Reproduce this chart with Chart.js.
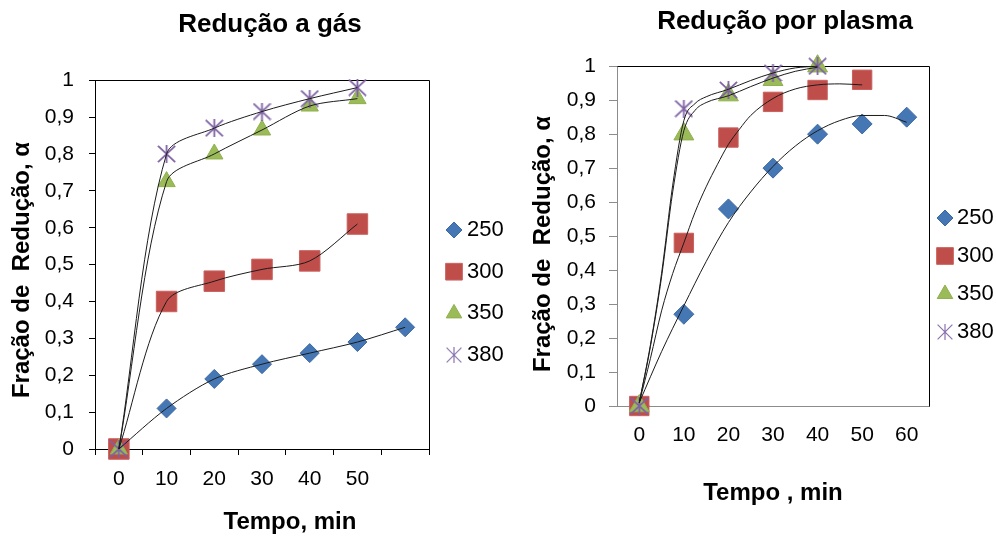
<!DOCTYPE html>
<html>
<head>
<meta charset="utf-8">
<script src="https://cdn.jsdelivr.net/npm/chart.js@4/dist/chart.umd.min.js"></script>
<style>
  html, body { margin: 0; padding: 0; background: #fff; width: 996px; height: 536px; overflow: hidden; }
  canvas { position: absolute; top: 0; }
  #gas { left: 0; }
  #plasma { left: 530px; }
</style>
</head>
<body>
<canvas id="gas" width="540" height="536"></canvas>
<canvas id="plasma" width="510" height="536"></canvas>
<script>
// ---- data: reduced fraction α vs. time (min) for each temperature ----
const temperatures = ['250', '300', '350', '380'];

// gas reduction (category axis, last category unlabeled)
const gasTimeLabels = ['0', '10', '20', '30', '40', '50', ''];
const gas250 = [0, 0.11, 0.19, 0.23, 0.26, 0.29, 0.33];
const gas300 = [0, 0.40, 0.455, 0.487, 0.51, 0.61];
const gas350 = [0, 0.725, 0.80, 0.865, 0.93, 0.95];
const gas380 = [0, 0.80, 0.87, 0.915, 0.95, 0.98];

// plasma reduction (measured points)
const plasmaTimes = [0, 10, 20, 30, 40, 50, 60];
const plasma250 = [0, 0.27, 0.58, 0.70, 0.80, 0.83, 0.85];
const plasma300 = [0, 0.48, 0.79, 0.895, 0.93, 0.96];
const plasma350 = [0, 0.80, 0.915, 0.96, 1.0];
const plasma380 = [0, 0.875, 0.93, 0.98, 1.0];

// plasma reduction (fitted trend curves)
const fit250Times = [0, 5, 10, 15, 20, 25, 30, 35, 40, 45, 50, 55, 60];
const fit250 = [0.01, 0.16, 0.295, 0.425, 0.54, 0.63, 0.705, 0.765, 0.81, 0.84, 0.855, 0.855, 0.835];
const fit300Times = [0, 2.5, 5, 7.5, 10, 12.5, 15, 17.5, 20, 22.5, 25, 30, 35, 40, 45, 50];
const fit300 = [0.01, 0.14, 0.28, 0.39, 0.48, 0.57, 0.645, 0.71, 0.77, 0.815, 0.855, 0.905, 0.933, 0.945, 0.948, 0.945];
const fit350Times = [0, 2.5, 5, 7.5, 10, 12.5, 15, 20, 25, 30, 35, 40];
const fit350 = [0.01, 0.175, 0.38, 0.63, 0.81, 0.87, 0.893, 0.913, 0.94, 0.965, 0.985, 0.997];
const fit380Times = [0, 2.5, 5, 7.5, 10, 12.5, 15, 20, 25, 30, 35, 40];
const fit380 = [0.01, 0.18, 0.39, 0.65, 0.84, 0.89, 0.91, 0.932, 0.958, 0.98, 0.995, 1.0];

// axis tick labels
const yTickLabels = ['0', '0,1', '0,2', '0,3', '0,4', '0,5', '0,6', '0,7', '0,8', '0,9', '1'];
const plasmaTickLabels = ['0', '10', '20', '30', '40', '50', '60'];

// ---- styling ----
const FONT = "'Liberation Sans', Arial, Helvetica, sans-serif";

function starMarker(w, h, color, lw) {
  const c = document.createElement('canvas');
  c.width = w; c.height = h;
  const g = c.getContext('2d');
  g.strokeStyle = color;
  g.lineWidth = lw;
  const p = lw / 2;
  g.beginPath();
  g.moveTo(p, p); g.lineTo(w - p, h - p);
  g.moveTo(w - p, p); g.lineTo(p, h - p);
  g.moveTo(w / 2, 0); g.lineTo(w / 2, h);
  g.stroke();
  return c;
}

const PURPLE = '#7f62a4';
// later series are painted over earlier ones (lower order = drawn later)
const markerStyles = {
  '250': { pointStyle: 'rectRot', fill: '#4677b5', stroke: '#3d69a3', legendRadius: 8, order: 4 },
  '300': { pointStyle: 'rect', fill: '#bf4d4a', stroke: '#c9615e', legendRadius: 11.8, order: 3 },
  '350': { pointStyle: 'triangle', fill: '#9bbb59', stroke: '#8fb04d', legendRadius: 9, order: 2 },
  '380': { pointStyle: 'image', fill: PURPLE, stroke: PURPLE, legendRadius: 8, order: 1 }
};

function markerSet(temp, values, sizes, xs) {
  const st = markerStyles[temp];
  const data = xs ? values.map((v, i) => ({ x: xs[i], y: v })) : values;
  const isStar = st.pointStyle === 'image';
  return {
    label: temp,
    data,
    showLine: false,
    order: st.order,
    clip: false,
    pointStyle: isStar ? starMarker(sizes.star[0], sizes.star[1], PURPLE, 1.8) : st.pointStyle,
    pointRadius: isStar ? 10 : sizes[temp],
    pointBackgroundColor: st.fill,
    pointBorderColor: st.stroke,
    pointBorderWidth: 1,
    legendMarker: {
      pointStyle: isStar ? starMarker(16, 16, '#8a74b0', 1.2) : st.pointStyle,
      radius: st.legendRadius,
      fill: st.fill,
      stroke: st.stroke
    }
  };
}

function curveSet(data, extra) {
  return Object.assign({
    data,
    borderColor: '#1b1b1b',
    borderWidth: 1,
    pointRadius: 0,
    fill: false,
    order: 0,
    clip: false
  }, extra);
}

// empty right-hand axis that reserves the legend column
function legendColumn(width) {
  return {
    type: 'linear',
    position: 'right',
    display: true,
    grid: { display: false, drawTicks: false },
    border: { display: false },
    ticks: { display: false },
    afterFit: s => { s.width = width; }
  };
}

// frame on top/right of the plot, axis titles and legend drawn on the canvas
const decor = {
  id: 'decor',
  beforeDatasetsDraw(chart, args, o) {
    const { ctx, chartArea: a } = chart;
    const al = v => Math.round(v - 0.5) + 0.5;
    ctx.save();
    ctx.strokeStyle = o.frameColor;
    ctx.lineWidth = 1;
    ctx.beginPath();
    ctx.moveTo(al(a.left), al(a.top));
    ctx.lineTo(al(a.right), al(a.top));
    ctx.lineTo(al(a.right), al(a.bottom));
    ctx.stroke();
    ctx.restore();
  },
  afterDraw(chart, args, o) {
    const ctx = chart.ctx;
    ctx.save();
    ctx.fillStyle = '#000';
    ctx.textBaseline = 'middle';
    ctx.textAlign = 'center';
    ctx.font = 'bold 24px ' + FONT;
    ctx.fillText(o.xTitle.text, o.xTitle.x, o.xTitle.y);
    ctx.save();
    ctx.translate(o.yTitle.x, o.yTitle.y);
    ctx.rotate(-Math.PI / 2);
    ctx.fillText(o.yTitle.text, 0, 0);
    ctx.restore();

    // legend
    const lg = o.legend;
    const items = chart.data.datasets.filter(d => d.legendMarker);
    ctx.font = '22px ' + FONT;
    ctx.textAlign = 'left';
    items.forEach((d, i) => {
      const y = lg.y0 + i * lg.dy;
      const m = d.legendMarker;
      ctx.fillStyle = m.fill;
      ctx.strokeStyle = m.stroke;
      Chart.helpers.drawPoint(ctx, { pointStyle: m.pointStyle, radius: m.radius, rotation: 0, borderWidth: 1 }, lg.markerX, y);
      ctx.fillStyle = '#000';
      ctx.fillText(d.label, lg.textX, y);
    });
    ctx.restore();
  }
};

const tickFont = { family: FONT, size: 21 };
const titleFont = { family: FONT, size: 26, weight: 'bold' };

// ---- gas reduction ----
const gasSizes = { '250': 9.5, '300': 14.5, '350': 10, star: [19, 18] };
new Chart(document.getElementById('gas'), {
  type: 'line',
  data: {
    labels: gasTimeLabels,
    datasets: [
      curveSet(gas250, { tension: 0.3 }),
      curveSet(gas300, { tension: 0.3 }),
      curveSet(gas350, { tension: 0.3 }),
      curveSet(gas380, { tension: 0.3 }),
      markerSet('250', gas250, gasSizes),
      markerSet('300', gas300, gasSizes),
      markerSet('350', gas350, gasSizes),
      markerSet('380', gas380, gasSizes)
    ]
  },
  options: {
    responsive: false,
    animation: false,
    events: [],
    layout: { padding: 0 },
    plugins: {
      legend: { display: false },
      tooltip: { enabled: false },
      title: { display: true, text: 'Redução a gás', color: '#000', font: titleFont, padding: { top: 9, bottom: 40 } },
      decor: {
        frameColor: '#000',
        xTitle: { text: 'Tempo, min', x: 290, y: 522 },
        yTitle: { text: 'Fração de  Redução, α', x: 22, y: 270 },
        legend: { markerX: 454, textX: 467, y0: 230, dy: 41.7 }
      }
    },
    scales: {
      x: {
        type: 'category',
        offset: true,
        grid: { display: true, offset: true, drawOnChartArea: false, drawTicks: true, tickLength: 6, tickColor: '#000', tickWidth: 1 },
        border: { display: true, color: '#000', width: 1 },
        ticks: { color: '#000', font: tickFont, padding: 12, maxRotation: 0, autoSkip: false },
        afterFit: s => { s.height = 87; }
      },
      y: {
        min: 0, max: 1,
        grid: { drawOnChartArea: false, drawTicks: true, tickLength: 6, tickColor: '#000' },
        border: { display: true, color: '#000', width: 1 },
        ticks: { stepSize: 0.1, color: '#000', font: tickFont, padding: 15, callback: (v, i) => yTickLabels[i] },
        afterFit: s => { s.width = 95; }
      },
      legendSpace: legendColumn(111)
    }
  },
  plugins: [decor]
});

// ---- plasma reduction ----
const plasmaSizes = { '250': 10, '300': 13.7, '350': 11.5, star: [19, 18] };
const pts = (xs, ys) => ys.map((v, i) => ({ x: xs[i], y: v }));
new Chart(document.getElementById('plasma'), {
  type: 'line',
  data: {
    datasets: [
      curveSet(pts(fit250Times, fit250), { cubicInterpolationMode: 'monotone' }),
      curveSet(pts(fit300Times, fit300), { cubicInterpolationMode: 'monotone' }),
      curveSet(pts(fit350Times, fit350), { cubicInterpolationMode: 'monotone' }),
      curveSet(pts(fit380Times, fit380), { cubicInterpolationMode: 'monotone' }),
      markerSet('250', plasma250, plasmaSizes, plasmaTimes),
      markerSet('300', plasma300, plasmaSizes, plasmaTimes),
      markerSet('350', plasma350, plasmaSizes, plasmaTimes),
      markerSet('380', plasma380, plasmaSizes, plasmaTimes)
    ]
  },
  options: {
    responsive: false,
    animation: false,
    events: [],
    layout: { padding: 0 },
    plugins: {
      legend: { display: false },
      tooltip: { enabled: false },
      title: { display: true, text: 'Redução por plasma', color: '#000', font: titleFont, padding: { top: 6, bottom: 29 } },
      decor: {
        frameColor: '#000',
        xTitle: { text: 'Tempo , min', x: 243, y: 493 },
        yTitle: { text: 'Fração de  Redução, α', x: 13, y: 244 },
        legend: { markerX: 415, textX: 427, y0: 218, dy: 38 }
      }
    },
    scales: {
      x: {
        type: 'linear',
        min: -5, max: 65,
        afterBuildTicks: s => { s.ticks = plasmaTimes.map(v => ({ value: v })); },
        grid: { display: false, drawTicks: false },
        border: { display: true, color: '#8c8c8c', width: 1 },
        ticks: { color: '#000', font: tickFont, padding: 17, maxRotation: 0, autoSkip: false, callback: (v, i) => plasmaTickLabels[i] },
        afterFit: s => { s.height = 130; }
      },
      y: {
        min: 0, max: 1,
        grid: { drawOnChartArea: false, drawTicks: true, tickLength: 8, tickColor: '#8c8c8c' },
        border: { display: true, color: '#8c8c8c', width: 1 },
        ticks: { stepSize: 0.1, color: '#000', font: tickFont, padding: 13, callback: (v, i) => yTickLabels[i] },
        afterFit: s => { s.width = 87; }
      },
      legendSpace: legendColumn(111)
    }
  },
  plugins: [decor]
});
</script>
</body>
</html>
